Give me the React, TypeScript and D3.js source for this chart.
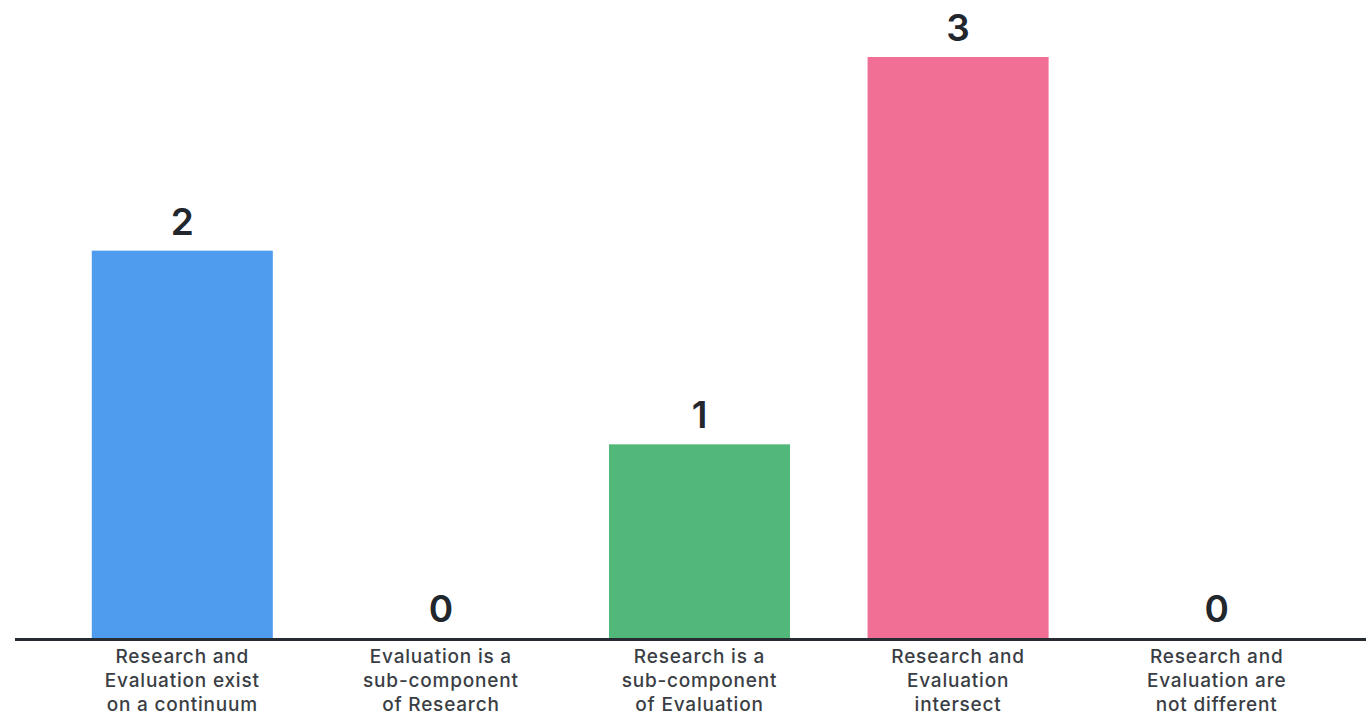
import React from "react";
import * as d3 from "d3";

const categories: string[][] = [
  ["Research and", "Evaluation exist", "on a continuum"],
  ["Evaluation is a", "sub-component", "of Research"],
  ["Research is a", "sub-component", "of Evaluation"],
  ["Research and", "Evaluation", "intersect"],
  ["Research and", "Evaluation are", "not different"],
];
const values: number[] = [2, 0, 1, 3, 0];
const colors: string[] = ["#4f9bee", "#4f9bee", "#52b87a", "#f16e95", "#f16e95"];

const W = 1366;
const H = 716;
const baseY = 638;
const topY = 57;

export default function App() {
  const keys = categories.map((_, i) => String(i));
  const x = d3.scaleBand<string>().domain(keys).range([53, 1346]).paddingInner(0.3).paddingOuter(0.15);
  const y = d3.scaleLinear().domain([0, 3]).range([baseY, topY]);

  return (
    <svg
      width={W}
      height={H}
      style={{ position: "absolute", left: 0, top: 0, background: "#fff" }}
      fontFamily="Inter, 'Open Sans', sans-serif"
    >
      {values.map((v, i) => {
        const bx = x(String(i))!;
        const bw = x.bandwidth();
        const cx = bx + bw / 2;
        return (
          <g key={i}>
            {v > 0 && (
              <rect x={bx} y={y(v)} width={bw} height={baseY - y(v)} fill={colors[i]} />
            )}
            <text
              x={cx}
              y={y(v) - 16}
              textAnchor="middle"
              fontSize={37}
              fontWeight={600}
              fill="#22262d"
            >
              {v}
            </text>
            {categories[i].map((line, j) => (
              <text
                key={j}
                x={cx}
                y={663 + j * 24}
                textAnchor="middle"
                fontSize={19}
                fontWeight={500}
                letterSpacing={0.8}
                fill="#3a3e44"
              >
                {line}
              </text>
            ))}
          </g>
        );
      })}
      <line x1={15} x2={W} y1={baseY + 1.5} y2={baseY + 1.5} stroke="#272b32" strokeWidth={3} />
    </svg>
  );
}
